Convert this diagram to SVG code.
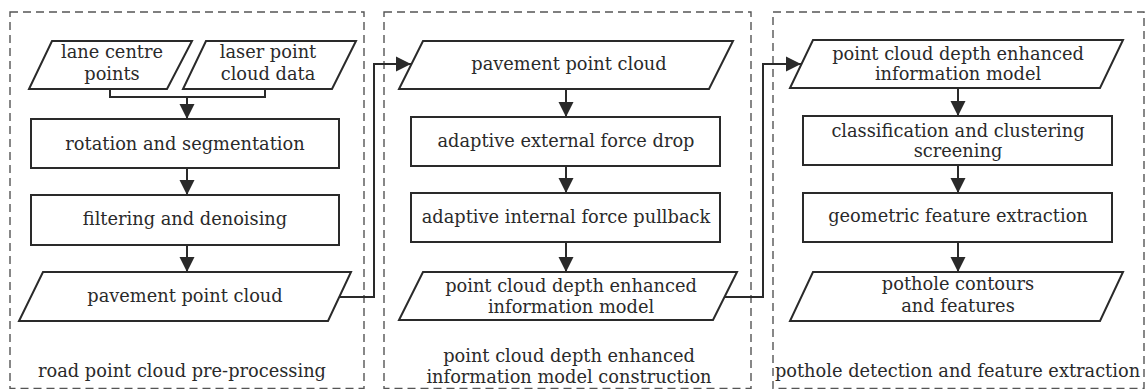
<svg xmlns="http://www.w3.org/2000/svg" width="1147" height="389" viewBox="0 0 1147 389">
<style>
  .panel { fill: none; stroke: #555; stroke-width: 1.4; stroke-dasharray: 8 5; }
  .node { fill: #fff; stroke: #2a2a2a; stroke-width: 2; }
  .t { font-family: "DejaVu Serif", "Liberation Serif", serif; font-size: 17.8px; fill: #2a2a2a; text-anchor: middle; }
  .c { fill: none; stroke: #2a2a2a; stroke-width: 2; }
</style>
<defs>
  <marker id="ah" markerUnits="userSpaceOnUse" markerWidth="16" markerHeight="16" refX="15" refY="8" orient="auto">
    <path d="M0,0.5 L15,8 L0,15.5 z" fill="#2a2a2a"/>
  </marker>
</defs>
<rect width="1147" height="389" fill="#fff"/>

<g id="panel1">
  <rect class="panel" x="10" y="12" width="354" height="376.5"/>
  <text class="t" x="182" y="377">road point cloud pre-processing</text>
</g>
<g id="panel2">
  <rect class="panel" x="384" y="12" width="367" height="376.5"/>
  <text class="t" x="569" y="362">point cloud depth enhanced</text>
  <text class="t" x="569" y="383">information model construction</text>
</g>
<g id="panel3">
  <rect class="panel" x="773" y="12" width="371" height="376.5"/>
  <text class="t" x="957.5" y="377">pothole detection and feature extraction</text>
</g>

<g id="connectors">
  <path class="c" d="M110,89 V97 H265 V89"/>
  <path class="c" d="M187,97 V119" marker-end="url(#ah)"/>
  <path class="c" d="M187,168 V195" marker-end="url(#ah)"/>
  <path class="c" d="M187,245 V272" marker-end="url(#ah)"/>
  <path class="c" d="M340,297 H374 V64 H411" marker-end="url(#ah)"/>
  <path class="c" d="M566,89 V117" marker-end="url(#ah)"/>
  <path class="c" d="M566,166 V193" marker-end="url(#ah)"/>
  <path class="c" d="M566,242 V272" marker-end="url(#ah)"/>
  <path class="c" d="M725,297 H763 V64 H801" marker-end="url(#ah)"/>
  <path class="c" d="M958,88 V116" marker-end="url(#ah)"/>
  <path class="c" d="M958,165 V193" marker-end="url(#ah)"/>
  <path class="c" d="M958,242 V272" marker-end="url(#ah)"/>
</g>

<g id="lane-centre-points">
  <polygon class="node" points="52,41 192,41 167,89 29,89"/>
  <text class="t" x="112" y="58">lane centre</text>
  <text class="t" x="112" y="80">points</text>
</g>
<g id="laser-point-cloud-data">
  <polygon class="node" points="206,41 356,41 332,89 183,89"/>
  <text class="t" x="268" y="58">laser point</text>
  <text class="t" x="268" y="80">cloud data</text>
</g>
<g id="rotation-segmentation">
  <rect class="node" x="31" y="119" width="308" height="49"/>
  <text class="t" x="185" y="150">rotation and segmentation</text>
</g>
<g id="filtering-denoising">
  <rect class="node" x="31" y="195" width="308" height="50"/>
  <text class="t" x="185" y="225">filtering and denoising</text>
</g>
<g id="pavement-point-cloud-1">
  <polygon class="node" points="43,272 351,272 328,321 19,321"/>
  <text class="t" x="185" y="302">pavement point cloud</text>
</g>

<g id="pavement-point-cloud-2">
  <polygon class="node" points="423,41 733,41 709,89 399,89"/>
  <text class="t" x="569" y="70">pavement point cloud</text>
</g>
<g id="external-force-drop">
  <rect class="node" x="411" y="117" width="309" height="49"/>
  <text class="t" x="566" y="147">adaptive external force drop</text>
</g>
<g id="internal-force-pullback">
  <rect class="node" x="411" y="193" width="309" height="49"/>
  <text class="t" x="566" y="223">adaptive internal force pullback</text>
</g>
<g id="depth-model-1">
  <polygon class="node" points="423,272 737,272 713,320 399,320"/>
  <text class="t" x="571" y="292">point cloud depth enhanced</text>
  <text class="t" x="571" y="313">information model</text>
</g>

<g id="depth-model-2">
  <polygon class="node" points="813,40 1123,40 1100,88 790,88"/>
  <text class="t" x="958" y="60">point cloud depth enhanced</text>
  <text class="t" x="958" y="80">information model</text>
</g>
<g id="classification-screening">
  <rect class="node" x="803" y="116" width="309" height="49"/>
  <text class="t" x="958" y="137">classification and clustering</text>
  <text class="t" x="958" y="157">screening</text>
</g>
<g id="geometric-feature-extraction">
  <rect class="node" x="803" y="193" width="309" height="49"/>
  <text class="t" x="958" y="222">geometric feature extraction</text>
</g>
<g id="pothole-contours">
  <polygon class="node" points="813,272 1123,272 1100,321 790,321"/>
  <text class="t" x="958" y="290">pothole contours</text>
  <text class="t" x="958" y="312">and features</text>
</g>
</svg>
